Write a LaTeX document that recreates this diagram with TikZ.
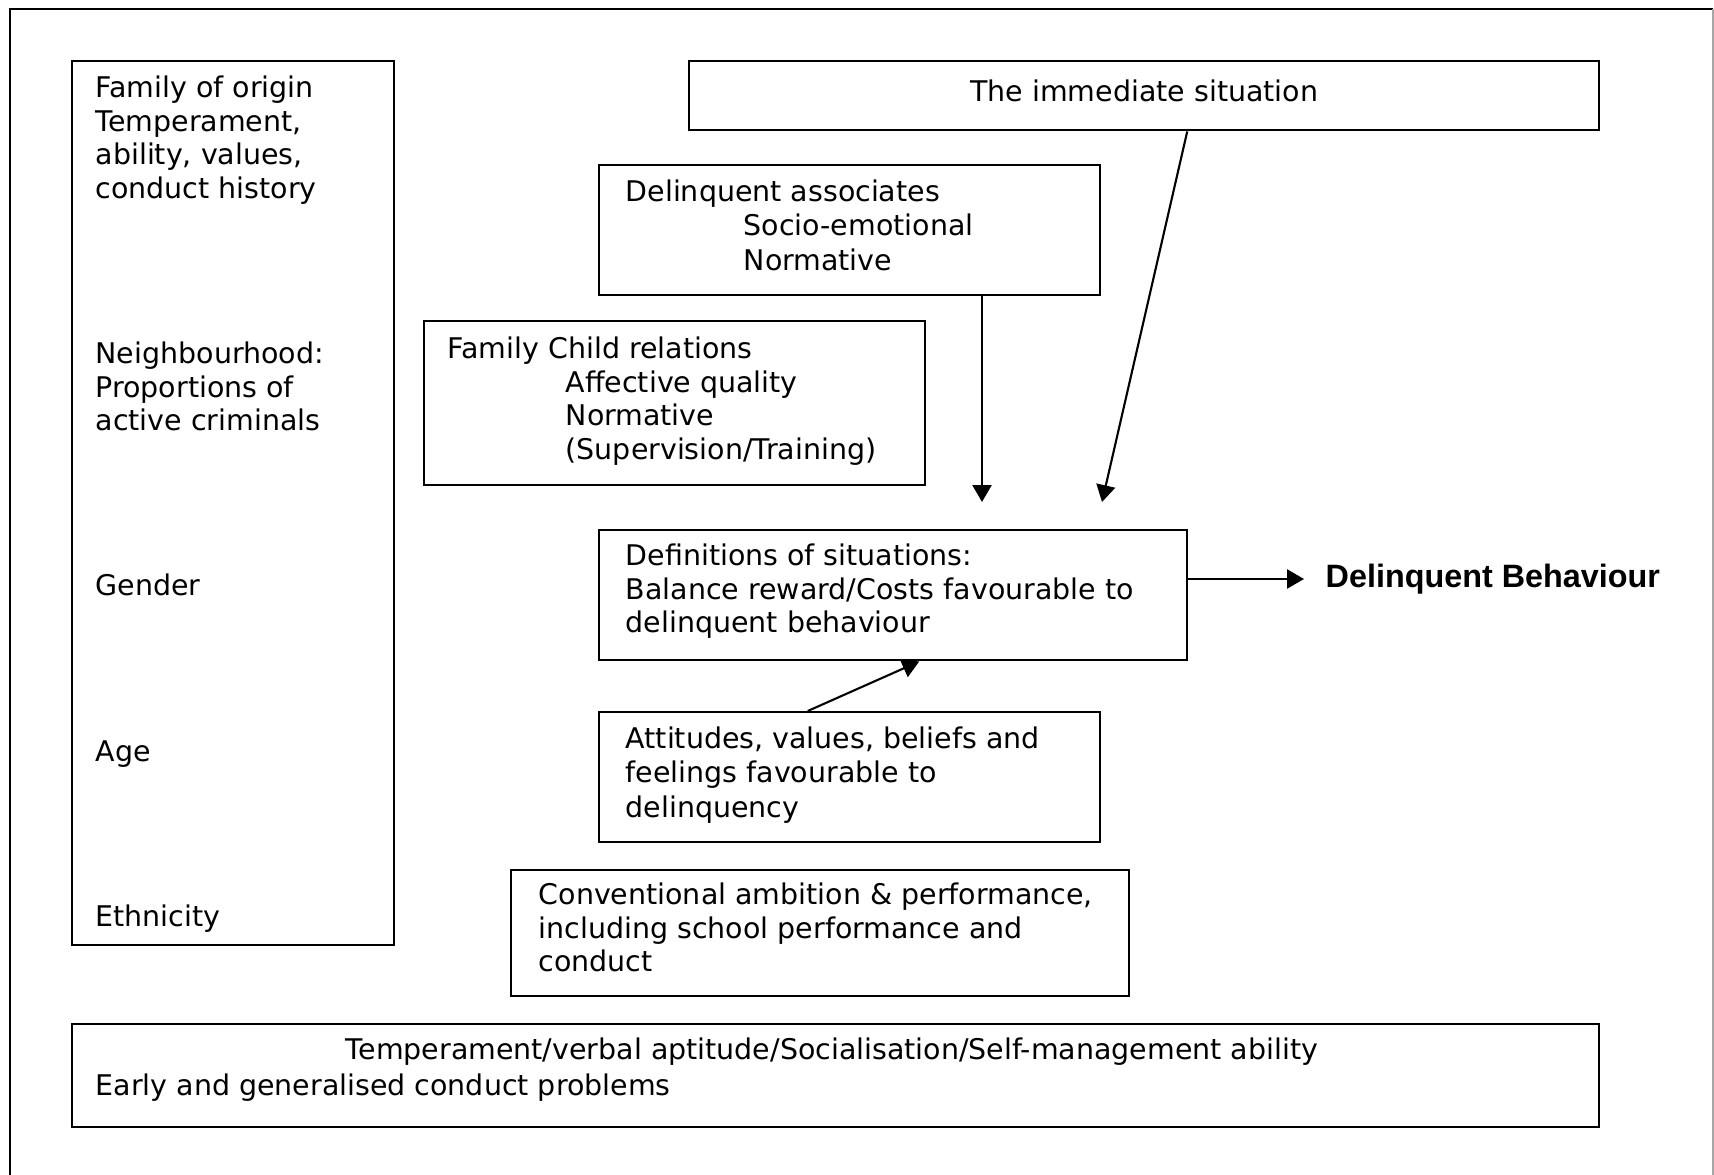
\documentclass[tikz,border=0pt]{standalone}
\usepackage{fontspec}
\setmainfont{DejaVu Sans}
\newfontfamily\boldhead{Liberation Sans}
\usetikzlibrary{arrows.meta,positioning}

\tikzset{
  box/.style={draw, line width=0.7pt, inner sep=0pt, anchor=north west},
  txt/.style={anchor=north west, inner sep=0pt, align=left,
    font=\fontsize{8.1}{9.6}\selectfont},
  arr/.style={line width=0.6pt, -{Triangle[length=4.8pt,width=5.4pt]}}
}
\newcommand{\subin}{\hspace*{1.18cm}}

\begin{document}
\begin{tikzpicture}[x=0.1mm,y=-0.1mm]
\useasboundingbox (0,0) rectangle (1714,1175);
\draw[line width=0.7pt] (10,1175)--(10,9)--(1713,9);
\draw[line width=0.6pt,black!35] (1713,9)--(1713,1175);

% left column
\node[box, minimum width=32.2mm, minimum height=88.4mm] (factors) at (71,60) {};
\node[txt] (origin) at (95,75) {Family of origin\\Temperament,\\ability, values,\\conduct history};
\node[txt] (hood) at (95,341) {Neighbourhood:\\Proportions of\\active criminals};
\node[txt] (gender) at (95,573) {Gender};
\node[txt] (age) at (95,740) {Age};
\node[txt] (ethnic) at (95,904) {Ethnicity};

% middle boxes
\node[box, minimum width=91mm, minimum height=6.9mm] (situation) at (688,60) {};
\node[txt, anchor=center] (situtxt) at ([yshift=1.3pt]situation.center) {The immediate situation};
\node[box, minimum width=50.1mm, minimum height=13mm] (assoc) at (598,164) {};
\node[txt] (assoctxt) at (625,179) {Delinquent associates\\\subin Socio-emotional\\[0.5pt]\subin Normative};
\node[box, minimum width=50.1mm, minimum height=16.4mm] (family) at (423,320) {};
\node[txt] (familytxt) at (447,336) {Family Child relations\\\subin Affective quality\\\subin Normative\\\subin (Supervision/Training)};
\node[box, minimum width=58.8mm, minimum height=13mm] (defs) at (598,529) {};
\node[txt] (defstxt) at (625,543) {Definitions of situations:\\Balance reward/Costs favourable to\\delinquent behaviour};
\node[box, minimum width=50.1mm, minimum height=13mm] (attitudes) at (598,711) {};
\node[txt] (attitxt) at (625,726) {Attitudes, values, beliefs and\\feelings favourable to\\[0.5pt]delinquency};
\node[box, minimum width=61.8mm, minimum height=12.6mm] (conv) at (510,869) {};
\node[txt] (convtxt) at (538,882) {Conventional ambition \& performance,\\including school performance and\\conduct};

% bottom box
\node[box, minimum width=152.7mm, minimum height=10.3mm] (bottom) at (71,1023) {};
\node[txt, anchor=north] (aptitude) at (832,1037) {Temperament/verbal aptitude/Socialisation/Self-management ability};
\node[txt] (early) at (95,1073) {Early and generalised conduct problems};

\node[anchor=west, inner sep=0pt, font=\boldhead\bfseries\fontsize{9.2}{11}\selectfont]
  (behaviour) at (1325,579) {Delinquent Behaviour};

% arrows
\coordinate (tipA) at (982,502);
\coordinate (tipB) at (1102,502);
\draw[arr] (assoc.south -| tipA) -- (tipA);
\draw[arr] ([xshift=4.3mm]situation.south) -- (tipB);
\draw[arr] ([xshift=-4.2mm]attitudes.north) -- ([xshift=2.6mm]defs.south);
\draw[arr] (defs.east |- behaviour.west) -- ([xshift=-2.1mm]behaviour.west);
\end{tikzpicture}
\end{document}
